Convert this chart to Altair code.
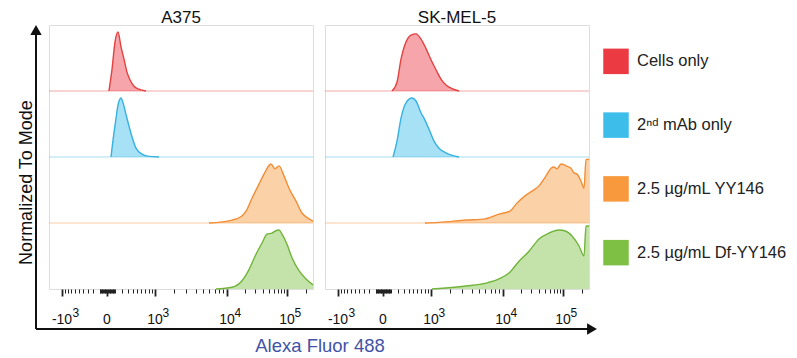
import altair as alt
import pandas as pd

# ---------------- data ----------------
SAMPLES = ["Cells only", "2ⁿᵈ mAb only", "2.5 µg/mL YY146", "2.5 µg/mL Df-YY146"]
ROW_ORDER = [3, 2, 1, 0]  # stacking slot of each sample (3 = top row)
LEGEND_COLORS = ["#ec3a43", "#3cbdea", "#f7993c", "#7dc043"]
LINE_COLORS = ["#e3413f", "#35b1e2", "#f28d36", "#71b43b"]
CELLS = ["A375", "SK-MEL-5"]

# fluorescence intensity (Alexa Fluor 488) and % of mode
A375_CELLS_X = [23, 61, 100, 143, 189, 238, 290, 346, 428, 540, 721]
A375_CELLS_Y = [0, 37, 83, 100, 75, 54, 32, 19, 8, 3, 0]
A375_MAB_X = [48, 61, 114, 143, 189, 221, 273, 366, 471, 614, 808, 1171]
A375_MAB_Y = [0, 15, 65, 88, 100, 92, 72, 40, 15, 5, 1, 0]
A375_YY_X = [5957, 12175, 17970, 20980, 26415, 34520, 41780, 54525, 63450,
             73900, 89300, 107700, 139650, 174450, 226100, 262144]
A375_YY_Y = [0, 5, 12, 20, 42, 66, 83, 100, 92, 97, 80, 59, 37, 17, 7, 3]
A375_DF_X = [7300, 12175, 17970, 23535, 30785, 38720, 46835, 56650, 63450,
             73900, 82750, 100000, 120350, 156050, 202300, 262144]
A375_DF_Y = [0, 3, 14, 33, 59, 78, 93, 95, 98, 100, 93, 76, 53, 31, 17, 7]

SK_CELLS_X = [114, 189, 255, 346, 449, 564, 693, 838, 1000, 1217, 1466, 1750, 2146, 2697]
SK_CELLS_Y = [0, 15, 54, 83, 95, 97, 88, 72, 53, 36, 20, 10, 4, 0]
SK_MAB_X = [129, 189, 255, 346, 471, 564, 693, 778, 933, 1127, 1362, 1750, 2697]
SK_MAB_Y = [0, 27, 66, 92, 100, 95, 75, 66, 47, 27, 15, 7, 0]
SK_YY_X = [808, 1362, 3363, 5957, 8925, 13170, 16630, 23535, 30785, 40215, 52500,
           63450, 71100, 79700, 92700, 111750, 134600, 150400, 168150, 195000,
           217900, 234600, 262144]
SK_YY_Y = [0, 1, 5, 7, 15, 20, 32, 46, 54, 63, 80, 93, 95, 92, 100, 97, 93, 85,
           83, 71, 59, 108, 108]
SK_DF_X = [1041, 3363, 6135, 8925, 12665, 18680, 27440, 40215, 58850, 85950,
           111750, 139650, 181050, 217900, 234600, 262144]
SK_DF_Y = [0, 5, 10, 17, 27, 47, 64, 85, 95, 100, 98, 90, 73, 56, 107, 107]

TICK_MAJOR = [-1000, 0, 1000, 10000, 100000]
TICK_BASE = ["-10", "0", "10", "10", "10"]
TICK_EXP = ["3", "", "3", "4", "5"]

X_TITLE = "Alexa Fluor 488"
Y_TITLE = "Normalized To Mode"

# ---------------- tables ----------------
curves = [
    ("A375", 0, A375_CELLS_X, A375_CELLS_Y), ("A375", 1, A375_MAB_X, A375_MAB_Y),
    ("A375", 2, A375_YY_X, A375_YY_Y), ("A375", 3, A375_DF_X, A375_DF_Y),
    ("SK-MEL-5", 0, SK_CELLS_X, SK_CELLS_Y), ("SK-MEL-5", 1, SK_MAB_X, SK_MAB_Y),
    ("SK-MEL-5", 2, SK_YY_X, SK_YY_Y), ("SK-MEL-5", 3, SK_DF_X, SK_DF_Y),
]
rows = []
for cell, si, xs, ys in curves:
    for xv, yv in zip(xs, ys):
        rows.append({"cell": cell, "sample": SAMPLES[si], "x": xv, "h": yv, "base": ROW_ORDER[si]})
df = pd.DataFrame(rows)

base_df = pd.DataFrame({"sample": SAMPLES, "base": ROW_ORDER})
base_df = base_df[base_df["base"] > 0]
legend_df = pd.DataFrame({"sample": SAMPLES})

tick_df = pd.DataFrame({"value": TICK_MAJOR, "btxt": TICK_BASE, "etxt": TICK_EXP})
one = pd.DataFrame({"k": [0]})

BAND = 112
W = 264
H = 264
FONT = "Liberation Sans"

minor = []
for m in range(1, 10):
    minor += [m * 10, -m * 10, m * 100, -m * 100]
for m in range(2, 10):
    minor += [m * 1000, m * 10000]
minor += [200000]
tick_values = sorted(set(TICK_MAJOR + minor))

major_test = "indexof([-1000, 0, 1000, 10000, 100000], datum.value) >= 0"

xscale = alt.Scale(type="symlog", constant=500,
                   domain=[-2000, -1000, 0, 1000, 10000, 100000, 262144],
                   range=[0, 13, 58, 106, 178, 238, 264], nice=False, zero=False)
yscale = alt.Scale(domain=[0, 4 * BAND], nice=False, zero=False)
fillscale = alt.Scale(domain=SAMPLES, range=LEGEND_COLORS)
strokescale = alt.Scale(domain=SAMPLES, range=LINE_COLORS)

xaxis = alt.Axis(values=tick_values, labels=False, domain=False, grid=False, title=None,
                 tickColor="#222",
                 tickSize={"condition": {"test": major_test, "value": 7}, "value": 4},
                 tickWidth={"condition": {"test": major_test, "value": 1.8}, "value": 1})


def panel(cell, left):
    if left:
        yaxis = alt.Axis(title=Y_TITLE, domain=False, ticks=False, labels=False, grid=False,
                         titleFontSize=18, titleFontWeight="normal", titleFont=FONT,
                         titleColor="#111", titleX=-18, titleY=157, titleAngle=-90,
                         titleBaseline="alphabetic", titleAlign="center")
    else:
        yaxis = None
    X = alt.X("x:Q", scale=xscale, axis=xaxis)
    data = alt.Chart(df).transform_filter(alt.datum.cell == cell).transform_calculate(
        ytop=f"datum.base * {BAND} + datum.h", ybase=f"datum.base * {BAND}")
    area = data.mark_area(fillOpacity=0.45, interpolate="monotone").encode(
        x=X, y=alt.Y("ytop:Q", scale=yscale, axis=yaxis), y2="ybase:Q",
        fill=alt.Fill("sample:N", scale=fillscale, legend=None))
    line = data.mark_line(strokeWidth=1.4, interpolate="monotone").encode(
        x=X, y=alt.Y("ytop:Q", scale=yscale, axis=yaxis),
        stroke=alt.Stroke("sample:N", scale=strokescale, legend=None))
    baselines = alt.Chart(base_df).transform_calculate(yb=f"datum.base * {BAND}").mark_rule(
        strokeWidth=1.2, opacity=0.45).encode(
        y=alt.Y("yb:Q", scale=yscale, axis=yaxis), x=alt.value(0), x2=alt.value(W),
        stroke=alt.Stroke("sample:N", scale=strokescale, legend=None))
    XT = alt.X("value:Q", scale=xscale, axis=xaxis)
    tb = alt.Chart(tick_df).mark_text(font=FONT, fontSize=14, align="center",
                                      baseline="alphabetic", color="#111").encode(
        x=XT, y=alt.value(H + 35), text="btxt:N")
    tep = alt.Chart(tick_df).transform_filter(alt.datum.value > 0).mark_text(
        font=FONT, fontSize=12, align="left", baseline="alphabetic", dx=7.5,
        color="#111").encode(x=XT, y=alt.value(H + 28), text="etxt:N")
    ten = alt.Chart(tick_df).transform_filter(alt.datum.value < 0).mark_text(
        font=FONT, fontSize=12, align="left", baseline="alphabetic", dx=10.5,
        color="#111").encode(x=XT, y=alt.value(H + 28), text="etxt:N")
    layers = [baselines, area, line, tb, tep, ten]
    if left:
        vline = alt.Chart(one).mark_rule(color="#111", strokeWidth=2).encode(
            x=alt.value(-13), y=alt.value(8), y2=alt.value(H + 40))
        hline = alt.Chart(one).mark_rule(color="#111", strokeWidth=2).encode(
            x=alt.value(-13), x2=alt.value(541), y=alt.value(H + 40))
        vhead = alt.Chart(one).mark_point(shape="triangle-up", filled=True, size=130,
                                          color="#111", opacity=1).encode(
            x=alt.value(-13), y=alt.value(5))
        hhead = alt.Chart(one).mark_point(shape="triangle-right", filled=True, size=130,
                                          color="#111", opacity=1).encode(
            x=alt.value(543), y=alt.value(H + 40))
        xtitle = alt.Chart(one).mark_text(font=FONT, fontSize=18.5, color="#4153a6",
                                          align="center", baseline="alphabetic").encode(
            x=alt.value(271), y=alt.value(H + 63), text=alt.value(X_TITLE))
        layers += [vline, hline, vhead, hhead, xtitle]
    return alt.layer(*layers).properties(
        width=W, height=H,
        title=alt.TitleParams(cell, fontSize=17, fontWeight="normal", font=FONT,
                              color="#111", offset=-2, anchor="middle"))


# legend drawn as its own small panel
LY = alt.Y("sample:N", sort=SAMPLES, axis=None,
           scale=alt.Scale(type="point", domain=SAMPLES, padding=0.57))
leg_sq = alt.Chart(legend_df).mark_square(size=650, opacity=1, strokeWidth=0).encode(
    x=alt.value(15), y=LY, fill=alt.Fill("sample:N", scale=fillscale, legend=None))
leg_tx = alt.Chart(legend_df).mark_text(font=FONT, fontSize=16.5, align="left",
                                        baseline="middle", color="#222").encode(
    x=alt.value(36), y=LY, text="sample:N")
legend_panel = alt.layer(leg_sq, leg_tx).properties(
    width=170, height=H, view=alt.ViewBackground(stroke="transparent"))

chart = alt.hconcat(panel("A375", True), panel("SK-MEL-5", False), legend_panel,
                    spacing=12, bounds="flush").properties(
    padding={"left": 8, "top": 0, "right": 0, "bottom": 0}
).configure_view(stroke="#8a8a8a", strokeWidth=1.5).configure(font=FONT)

chart.save("out.html", embed_options={"renderer": "svg", "actions": False})
